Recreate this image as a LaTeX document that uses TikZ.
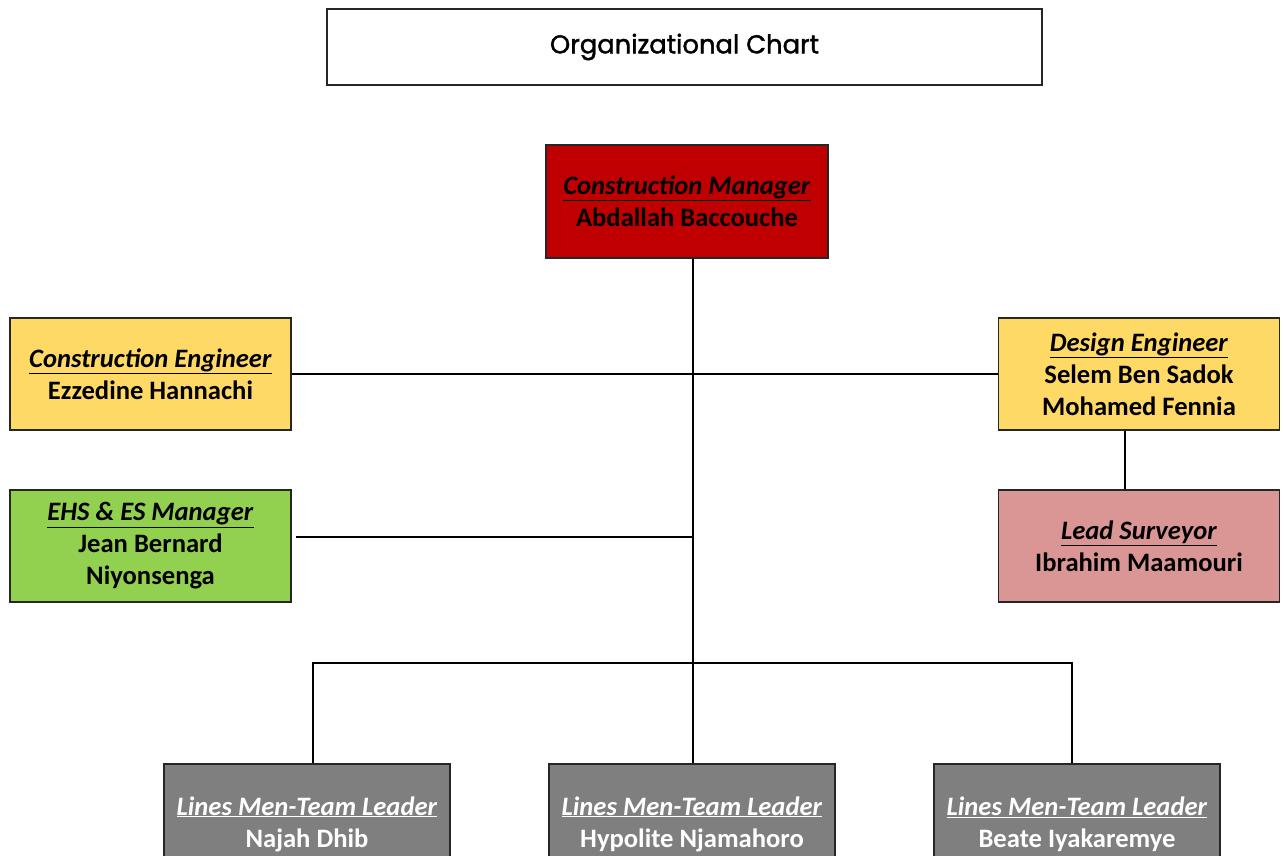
\documentclass[tikz,border=0pt]{standalone}
\usepackage{fontspec}
\setmainfont{Carlito}
\newfontfamily\titlefont{Poppins}[FakeBold=1.5]
\definecolor{mgr}{HTML}{C00000}
\definecolor{eng}{HTML}{FFD966}
\definecolor{ehs}{HTML}{92D050}
\definecolor{surv}{HTML}{DA9694}
\definecolor{lead}{HTML}{7F7F7F}
\definecolor{edge}{HTML}{262626}
\tikzset{
  box/.style={draw=edge, line width=1.3pt, minimum width=281pt, minimum height=112pt,
    align=center, inner sep=0pt, font=\fontsize{26.6}{32}\selectfont\bfseries},
  leadbox/.style={box, fill=lead, text=white, minimum width=286pt, minimum height=120pt},
  conn/.style={draw=black, line width=1.2pt},
}
\newcommand{\role}[1]{\underline{\textit{#1}}}
\begin{document}
\begin{tikzpicture}[x=1pt,y=-1pt]
\useasboundingbox (0,0) rectangle (1284,856);
\clip (0,0) rectangle (1284,856);
\fill[white] (0,0) rectangle (1284,856);
\node[draw=edge, line width=1.3pt, minimum width=715pt, minimum height=76pt, font=\fontsize{25.8}{30}\selectfont\titlefont] (title) at (684.5,47) {\raisebox{-1.5pt}{Organizational Chart}};
\node[box, fill=mgr, minimum width=282pt, minimum height=113pt] (cm) at (687,201.5) {\role{Construction Manager}\\Abdallah Baccouche};
\node[box, fill=eng] (ce) at (150.5,374) {\role{Construction Engineer}\\Ezzedine Hannachi};
\node[box, fill=eng] (de) at (1139,374) {\role{Design Engineer}\\Selem Ben Sadok\\Mohamed Fennia};
\node[box, fill=ehs] (ehs) at (150.5,546) {\role{EHS \& ES Manager}\\Jean Bernard\\Niyonsenga};
\node[box, fill=surv] (ls) at (1139,546) {\role{Lead Surveyor}\\Ibrahim Maamouri};
\node[leadbox] (l1) at (307,824) {\role{Lines Men-Team Leader}\\Najah Dhib};
\node[leadbox] (l2) at (692,824) {\role{Lines Men-Team Leader}\\Hypolite Njamahoro};
\node[leadbox] (l3) at (1077,824) {\role{Lines Men-Team Leader}\\Beate Iyakaremye};
\coordinate (trunk) at (693,663);
\coordinate (ehsend) at (296,537);
\coordinate (busl) at (313,663);
\coordinate (busr) at (1072,663);
\draw[conn] (cm.south -| trunk) -- (l2.north -| trunk);
\draw[conn] (ce.east) -- (de.west);
\draw[conn] (ehsend) -- (ehsend -| trunk);
\draw[conn] (de.south -| 1125,0) -- (ls.north -| 1125,0);
\draw[conn] (l1.north -| busl) -- (busl) -- (busr) -- (l3.north -| busr);
\end{tikzpicture}
\end{document}
